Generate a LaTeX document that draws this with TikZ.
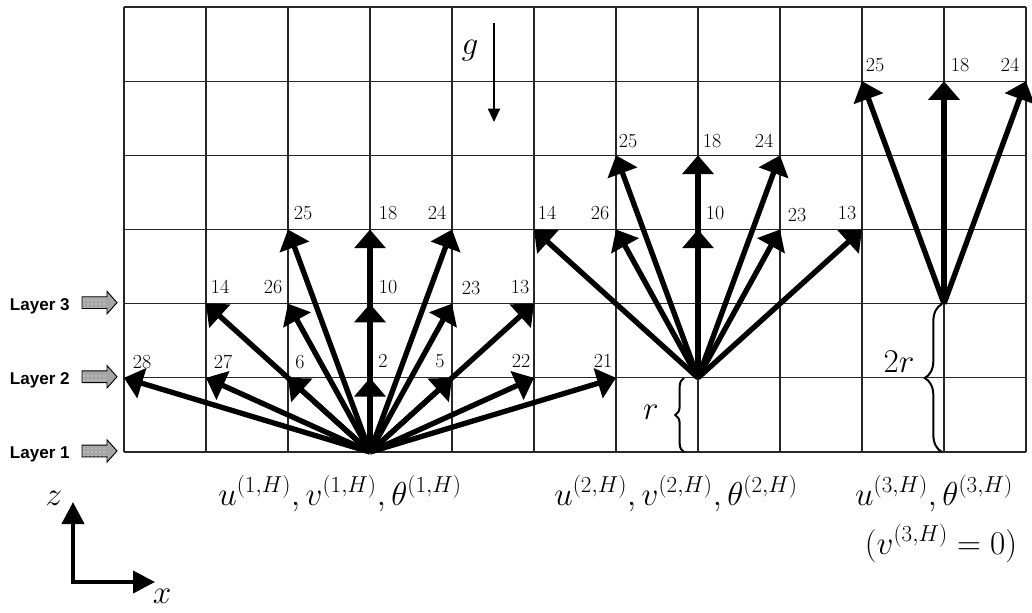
\documentclass[tikz,border=0pt]{standalone}
\usepackage{fontspec}
\newfontfamily\layerfont{Liberation Sans}
\usetikzlibrary{arrows.meta,decorations.pathreplacing,patterns}
\begin{document}
\begin{tikzpicture}[x=0.75pt,y=-0.75pt,
  gridline/.style={line width=0.9pt,black!85},
  fanarrow/.style={line width=4pt,-{Triangle[length=14pt,width=23pt]}},
  numlbl/.style={font=\fontsize{15}{18}\selectfont,inner sep=0pt},
  mathlbl/.style={font=\fontsize{25.5}{30}\selectfont,inner sep=0pt,anchor=base},
  biglbl/.style={font=\fontsize{32}{36}\selectfont,inner sep=0pt},
  layerlbl/.style={font=\layerfont\bfseries\fontsize{12.8}{15}\selectfont,inner sep=0pt,anchor=base east},
  layerarrow/.style={draw=black,line width=0.7pt,fill=gray!70},
  bracepath/.style={decorate,line width=1.5pt},
  axisarrow/.style={line width=3pt,-{Triangle[length=16.5pt,width=16.5pt]}},
  gravarrow/.style={line width=1.5pt,-{Triangle[length=10pt,width=9pt]}}
]
\useasboundingbox (0,0) rectangle (1032,612);
% grid points
\foreach \i in {0,...,11} {
  \foreach \j in {0,...,6} {
    \coordinate (c-\i-\j) at ({124+82*\i},{7+74.1667*\j});
  }
}
\foreach \i in {0,...,11} \draw[gridline] (c-\i-0) -- (c-\i-6);
\foreach \j in {0,...,6} \draw[gridline] (c-0-\j) -- (c-11-\j);

% fan 1
\foreach \t in {c-0-5,c-1-5,c-2-5,c-3-5,c-4-5,c-5-5,c-6-5,
                c-1-4,c-2-4,c-3-4,c-4-4,c-5-4,
                c-2-3,c-3-3,c-4-3}
  \draw[fanarrow] (c-3-6) -- (\t);
% fan 2
\foreach \t in {c-5-3,c-6-3,c-7-3,c-8-3,c-9-3,c-6-2,c-7-2,c-8-2}
  \draw[fanarrow] (c-7-5) -- (\t);
% fan 3
\foreach \t in {c-9-1,c-10-1,c-11-1}
  \draw[fanarrow] (c-10-4) -- (\t);

% labels fan 1
\node[numlbl] (a28) at (142,362) {28};
\node[numlbl] (a27) at (223,362) {27};
\node[numlbl] (a6)  at (300,362) {6};
\node[numlbl] (a2)  at (383,361) {2};
\node[numlbl] (a5)  at (440,361) {5};
\node[numlbl] (a22) at (521,361) {22};
\node[numlbl] (a21) at (603,361) {21};
\node[numlbl] (a14) at (220,287) {14};
\node[numlbl] (a26) at (273,287) {26};
\node[numlbl] (a10) at (388,287) {10};
\node[numlbl] (a23) at (471,288) {23};
\node[numlbl] (a13) at (520,287) {13};
\node[numlbl] (a25) at (303,213) {25};
\node[numlbl] (a18) at (388,213) {18};
\node[numlbl] (a24) at (437,213) {24};
% labels fan 2
\node[numlbl] (b14) at (547,213) {14};
\node[numlbl] (b26) at (600,213) {26};
\node[numlbl] (b10) at (715,213) {10};
\node[numlbl] (b23) at (797,215) {23};
\node[numlbl] (b13) at (847,213) {13};
\node[numlbl] (b25) at (628,141) {25};
\node[numlbl] (b18) at (712,141) {18};
\node[numlbl] (b24) at (764,141) {24};
% labels fan 3
\node[numlbl] (d25) at (875,65) {25};
\node[numlbl] (d18) at (960,65) {18};
\node[numlbl] (d24) at (1010,65) {24};

% braces
\coordinate (br1a) at (684,452);
\coordinate (br1b) at (684,378);
\draw[bracepath,decoration={brace,amplitude=6.5pt}] (br1a) -- (br1b);
\node[biglbl] (rl) at (651,412) {$r$};
\coordinate (br2a) at (942,452);
\coordinate (br2b) at (942,304);
\draw[bracepath,decoration={brace,amplitude=13pt}] (br2a) -- (br2b);
\node[biglbl] (r2l) at (899,362) {$2r$};

% gravity
\coordinate (g0) at (494,23);
\coordinate (g1) at (494,122);
\draw[gravarrow] (g0) -- (g1);
\node[mathlbl,anchor=center] (gl) at (470,51) {$g$};

% bottom labels
\node[mathlbl] (v1) at (340,505) {$u^{(1,H)},v^{(1,H)},\theta^{(1,H)}$};
\node[mathlbl] (v2) at (676,505) {$u^{(2,H)},v^{(2,H)},\theta^{(2,H)}$};
\node[mathlbl] (v3) at (934,505) {$u^{(3,H)},\theta^{(3,H)}$};
\node[mathlbl] (v4) at (941,554) {$(v^{(3,H)}=0)$};

% layers
\foreach \j/\n in {4/3,5/2,6/1} {
  \node[layerlbl] (lay\n) at ([yshift=-4.9pt]c-0-\j -| 70,0) {Layer \n};
  \draw[layerarrow] ([shift={(82,-3.6pt)}]c-0-\j -| 0,0) -- ++(25,0) -- ++(0,-4pt) -- ++(10,8.4pt) -- ++(-10,8.4pt) -- ++(0,-4pt) -- ++(-25,0) -- cycle;
  \fill[pattern=dots,pattern color=white] ([shift={(83,-3pt)}]c-0-\j -| 0,0) rectangle ++(24,6pt);
}

% axes
\coordinate (ax0) at (73,582);
\coordinate (axz) at (73,502);
\coordinate (axx) at (155,582);
\draw[axisarrow] (ax0) -- (axz);
\draw[axisarrow] ([xshift=-1.5pt]ax0) -- (axx);
\node[mathlbl,anchor=center] (zl) at (54,498) {$z$};
\node[mathlbl,anchor=center] (xl) at (162,596) {$x$};
\end{tikzpicture}
\end{document}
